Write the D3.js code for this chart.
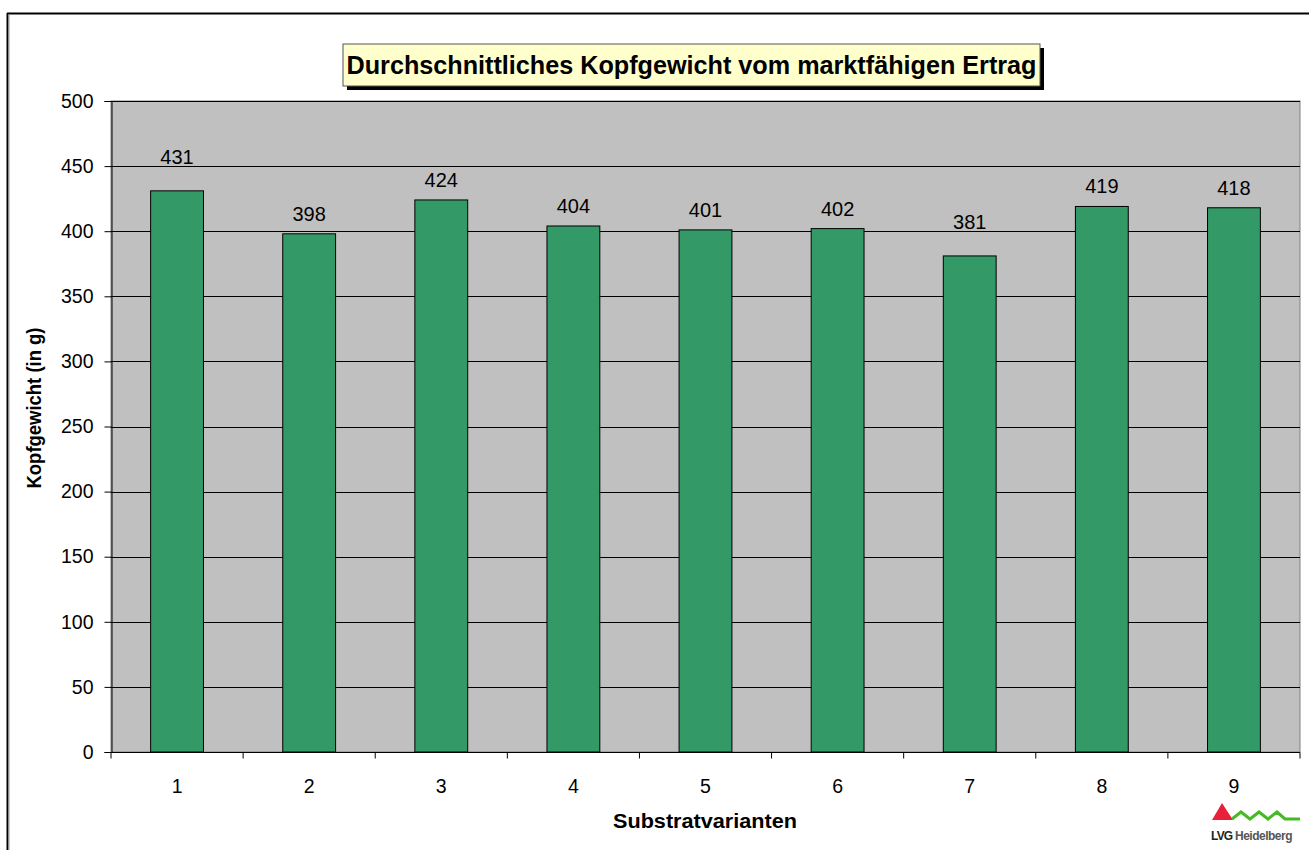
<!DOCTYPE html>
<html><head><meta charset="utf-8">
<script src="https://cdn.jsdelivr.net/npm/d3@7"></script>
<style>body{margin:0;background:#fff;}svg{display:block;font-family:"Liberation Sans",Arial,sans-serif;}</style>
</head><body>
<svg id="c" width="1309" height="850"></svg>
<script>
const categories = ["1","2","3","4","5","6","7","8","9"];
const values = [431,398,424,404,401,402,381,419,418];
const yTicks = [0,50,100,150,200,250,300,350,400,450,500];
const titleText = "Durchschnittliches Kopfgewicht vom marktfähigen Ertrag";
const yLabel = "Kopfgewicht (in g)";
const xLabel = "Substratvarianten";

const svg = d3.select("#c");
const m = {l:111, t:101, r:1300, b:752};
// outer frame
svg.append("line").attr("x1",7).attr("x2",1309).attr("y1",13.5).attr("y2",13.5).attr("stroke","#000").attr("stroke-width",2);
svg.append("line").attr("x1",7.5).attr("x2",7.5).attr("y1",13).attr("y2",850).attr("stroke","#000").attr("stroke-width",2);
svg.append("line").attr("x1",9).attr("x2",9).attr("y1",14).attr("y2",850).attr("stroke","#999").attr("stroke-width",1);

const x = d3.scaleBand().domain(categories).range([m.l,m.r]).paddingInner(0.6).paddingOuter(0.3);
const xb = d3.scaleBand().domain(categories).range([m.l,m.r]);
const y = d3.scaleLinear().domain([0,500]).range([m.b,m.t]);

svg.append("rect").attr("x",m.l).attr("y",m.t).attr("width",m.r-m.l).attr("height",m.b-m.t)
  .attr("fill","#C0C0C0").attr("stroke","#808080").attr("stroke-width",1);

// grid
svg.append("g").selectAll("line").data(yTicks.filter(d=>d>0)).join("line")
  .attr("x1",m.l).attr("x2",m.r).attr("y1",d=>Math.round(y(d))+0.5).attr("y2",d=>Math.round(y(d))+0.5)
  .attr("stroke","#000").attr("stroke-width",1);

// bars
svg.append("g").selectAll("rect").data(values).join("rect")
  .attr("x",(d,i)=>x(categories[i])).attr("width",x.bandwidth())
  .attr("y",d=>y(d)).attr("height",d=>y(0)-y(d))
  .attr("fill","#339966").attr("stroke","#000").attr("stroke-width",1);

// value labels: placed above the bar, nudged above a gridline they would cross
function labelCenter(d){
  let c = y(d) - 20;
  for (const t of yTicks){ const g = y(t); if (Math.abs(c - g) < 10) c = g - 9; }
  return c;
}
svg.append("g").selectAll("text").data(values).join("text")
  .attr("x",(d,i)=>x(categories[i])+x.bandwidth()/2).attr("y",d=>labelCenter(d)+7)
  .attr("text-anchor","middle").attr("font-size",20).attr("fill","#000").text(d=>d);

// y axis
const ya = d3.axisLeft(y).tickValues(yTicks).tickSize(7).tickPadding(11);
const gy = svg.append("g").attr("transform",`translate(${m.l+0.5},0)`).call(ya);
gy.selectAll("text").attr("font-size",19.5).attr("fill","#000").attr("font-family","Liberation Sans, Arial, sans-serif");
gy.select(".domain").attr("stroke","#000");
gy.selectAll(".tick line").attr("stroke","#000");

// x axis
const gx = svg.append("g").attr("transform",`translate(0,${m.b+0.5})`);
gx.append("line").attr("x1",m.l).attr("x2",m.r).attr("stroke","#000");
gx.selectAll(".tk").data(categories.concat(["end"])).join("line")
  .attr("x1",(d,i)=>m.l+i*xb.step()).attr("x2",(d,i)=>m.l+i*xb.step())
  .attr("y1",0).attr("y2",6).attr("stroke","#000");
gx.selectAll("text").data(categories).join("text")
  .attr("x",d=>xb(d)+xb.bandwidth()/2).attr("y",40).attr("text-anchor","middle")
  .attr("font-size",19.5).attr("fill","#000").text(d=>d);

// axis titles
svg.append("text").attr("x",705).attr("y",828).attr("text-anchor","middle")
  .attr("font-size",20).attr("font-weight","bold")
  .attr("textLength",184).attr("lengthAdjust","spacingAndGlyphs").text(xLabel);
svg.append("text").attr("transform",`translate(41,408) rotate(-90)`).attr("text-anchor","middle")
  .attr("font-size",20).attr("font-weight","bold")
  .attr("textLength",161).attr("lengthAdjust","spacingAndGlyphs").text(yLabel);

// title box
const tb = {x:343, y:44, w:697, h:42};
svg.append("rect").attr("x",tb.x+4).attr("y",tb.y+4).attr("width",tb.w).attr("height",tb.h).attr("fill","#000");
svg.append("rect").attr("x",tb.x).attr("y",tb.y).attr("width",tb.w).attr("height",tb.h)
  .attr("fill","#FFFFCC").attr("stroke","#555").attr("stroke-width",1);
svg.append("text").attr("x",tb.x+tb.w/2).attr("y",tb.y+30).attr("text-anchor","middle")
  .attr("font-size",25).attr("font-weight","bold")
  .attr("textLength",690).attr("lengthAdjust","spacingAndGlyphs").text(titleText);

// logo
const lg = svg.append("g").attr("transform","translate(1210,800)");
lg.append("path").attr("d","M2,20 L12,3 L23,20 Z").attr("fill","#E8213A");
lg.append("path").attr("d","M22,19 L31,12 L40,19 L49,12 L58,19 L67,12 L75,19 L90,19").attr("fill","none").attr("stroke","#44BB22").attr("stroke-width",3);
lg.append("text").attr("x",1).attr("y",40).attr("font-size",12).attr("font-weight","bold").attr("fill","#222").attr("letter-spacing","-0.8").text("LVG");
lg.append("text").attr("x",25).attr("y",40).attr("font-size",12).attr("font-weight","bold").attr("fill","#555").attr("letter-spacing","-0.5").text("Heidelberg");
</script>
</body></html>
